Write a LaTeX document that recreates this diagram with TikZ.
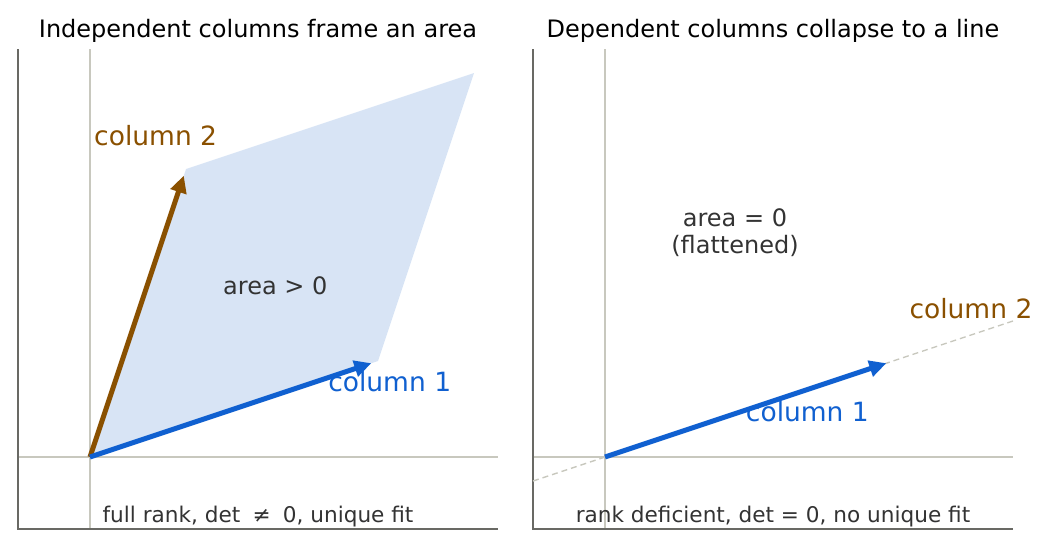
\documentclass[tikz,border=0pt]{standalone}
\usepackage{fontspec}
\setmainfont{DejaVu Sans}
\usetikzlibrary{arrows.meta}
\definecolor{colblue}{RGB}{16,96,208}
\definecolor{colbrown}{RGB}{138,80,0}
\definecolor{areablue}{RGB}{216,228,245}
\definecolor{gridgray}{RGB}{200,200,190}
\definecolor{spinegray}{RGB}{105,105,100}
\definecolor{textgray}{RGB}{51,51,51}

\begin{document}
\begin{tikzpicture}[x=1pt, y=-1pt,
    title/.style={font=\fontsize{24}{28}\selectfont, anchor=base, inner sep=0pt},
    collabel/.style={font=\fontsize{26.5}{30}\selectfont, inner sep=0pt},
    note/.style={font=\fontsize{24}{27.6}\selectfont, text=textgray, inner sep=0pt, align=center},
    foot/.style={font=\fontsize{21.6}{25}\selectfont, text=textgray, anchor=base, inner sep=0pt},
    gridline/.style={draw=gridgray, line width=1.6pt},
    spine/.style={draw=spinegray, line width=1.6pt},
    vec/.style={-{Triangle[length=17pt,width=16pt]}, line width=5pt, shorten >=7pt}]
  \useasboundingbox (0,0) rectangle (1051,547);
  % Left: independent columns span a parallelogram
  \begin{scope}[shift={(90,457)}, x=96pt, y=96pt]
    \coordinate (o1) at (0,0);
    \coordinate (a1) at (3,1);
    \coordinate (b1) at (1,3);
    \coordinate (c1) at (4,4);
    \fill[areablue] (o1) -- (a1) -- (c1) -- (b1) -- cycle;
    \draw[gridline] (0,-0.75) -- (0,4.25);
    \draw[gridline] (-0.75,0) -- (4.25,0);
    \draw[spine] (-0.75,4.25) -- (-0.75,-0.75) -- (4.25,-0.75);
    \draw[vec, colbrown] (o1) -- (b1);
    \draw[vec, colblue] (o1) -- (a1);
    \node[collabel, anchor=base west, text=colbrown] (lab2l) at (0.042,3.25) {column 2};
    \node[collabel, anchor=base west, text=colblue] (lab1l) at (2.48,0.685) {column 1};
    \node[note, anchor=base] (arealeft) at (1.93,1.69) {area > 0};
    \node[title] (titleleft) at (1.75,4.37) {Independent columns frame an area};
    \node[foot] (footleft) at (1.75,-0.68) {full rank, det\hspace{0.25em} ≠\hspace{0.25em} 0, unique fit};
  \end{scope}
  % Right: dependent columns lie on one line
  \begin{scope}[shift={(605,457)}, x=96pt, y=96pt]
    \coordinate (o2) at (0,0);
    \coordinate (a2) at (3,1);
    \coordinate (lo2) at (-0.75,-0.25);
    \coordinate (hi2) at (4.25,1.4167);
    \draw[gridline] (0,-0.75) -- (0,4.25);
    \draw[gridline] (-0.75,0) -- (4.25,0);
    \draw[spine] (-0.75,4.25) -- (-0.75,-0.75) -- (4.25,-0.75);
    \draw[gridline, line width=1.4pt, dash pattern=on 6pt off 4pt] (lo2) -- (hi2);
    \draw[vec, colblue] (o2) -- (a2);
    \node[collabel, anchor=base west, text=colbrown] (lab2r) at (3.17,1.44) {column 2};
    \node[collabel, anchor=base east, text=colblue] (lab1r) at (2.75,0.375) {column 1};
    \node[note, anchor=north] (arearight) at (1.354,2.59) {area = 0\\(flattened)};
    \node[title] (titleright) at (1.75,4.37) {Dependent columns collapse to a line};
    \node[foot] (footright) at (1.75,-0.68) {rank deficient, det = 0, no unique fit};
  \end{scope}
\end{tikzpicture}
\end{document}
